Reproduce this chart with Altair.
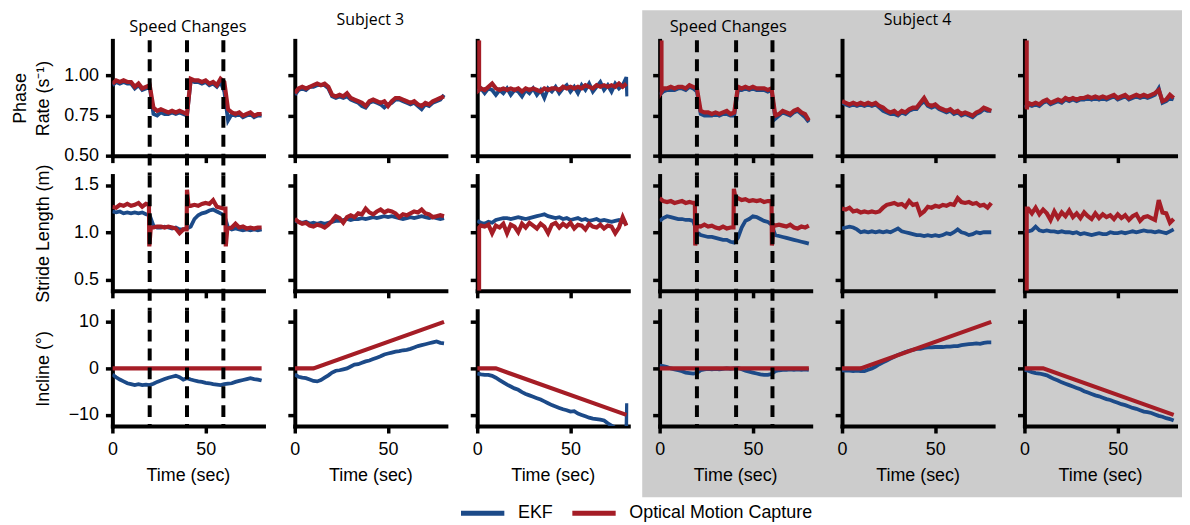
import altair as alt
import pandas as pd

# ---------------- data ----------------
T = [0, 2, 4, 6, 8, 10, 12, 14, 16, 18, 20, 22, 24, 26, 28, 30, 32, 34, 36, 38, 40,
     42, 44, 46, 48, 50, 52, 54, 56, 58, 60, 62, 64, 66, 68, 70, 72, 74, 76, 78, 80]

s3_speed_change_times = [20, 40, 59.5]
s4_speed_change_times = [20, 41, 60.5]

# Phase rate (1/s)
s3_speed_rate_mocap = [0.95, 0.97, 0.96, 0.97, 0.96, 0.96, 0.93, 0.95, 0.92, 0.93, 0.94, 0.80, 0.78, 0.79, 0.78, 0.77, 0.78, 0.77, 0.78, 0.77,
                       0.76, 0.98, 0.97, 0.97, 0.96, 0.97, 0.95, 0.96, 0.94, 0.98, 0.96, 0.79, 0.77, 0.76, 0.77, 0.75, 0.76, 0.77, 0.75, 0.76, 0.76]
s3_speed_rate_ekf = [0.94, 0.96, 0.95, 0.96, 0.95, 0.95, 0.92, 0.94, 0.91, 0.92, 0.93, 0.76, 0.75, 0.77, 0.76, 0.76, 0.77, 0.76, 0.77, 0.76,
                     0.75, 0.97, 0.96, 0.96, 0.95, 0.96, 0.94, 0.95, 0.93, 0.96, 0.90, 0.72, 0.76, 0.75, 0.76, 0.74, 0.75, 0.76, 0.74, 0.75, 0.75]
s3_up_rate_mocap = [0.89, 0.92, 0.93, 0.92, 0.93, 0.94, 0.95, 0.94, 0.95, 0.93, 0.88, 0.87, 0.88, 0.87, 0.89, 0.86, 0.85, 0.84, 0.83, 0.81,
                    0.84, 0.85, 0.84, 0.83, 0.84, 0.81, 0.84, 0.86, 0.86, 0.85, 0.84, 0.83, 0.84, 0.82, 0.81, 0.83, 0.82, 0.84, 0.85, 0.86, 0.87]
s3_up_rate_ekf = [0.88, 0.91, 0.92, 0.91, 0.93, 0.93, 0.94, 0.94, 0.94, 0.92, 0.87, 0.86, 0.87, 0.86, 0.87, 0.85, 0.84, 0.83, 0.81, 0.80,
                  0.83, 0.84, 0.83, 0.82, 0.80, 0.82, 0.83, 0.85, 0.85, 0.84, 0.83, 0.82, 0.83, 0.81, 0.79, 0.82, 0.81, 0.83, 0.84, 0.85, 0.88]
s3_down_rate_mocap = [None, 0.92, 0.91, 0.93, 0.95, 0.92, 0.91, 0.92, 0.91, 0.92, 0.91, 0.92, 0.90, 0.92, 0.91, 0.92, 0.91, 0.90, 0.92, 0.91,
                      0.92, 0.92, 0.91, 0.93, 0.92, 0.93, 0.92, 0.93, 0.92, 0.94, 0.93, 0.92, 0.94, 0.93, 0.94, 0.93, 0.94, 0.93, 0.95, 0.93, 0.95]
s3_down_rate_mocap_extra = [[1.0, 1.22], [1.0, 0.91]]
s3_down_rate_ekf = [0.90, 0.92, 0.89, 0.92, 0.91, 0.88, 0.91, 0.89, 0.92, 0.88, 0.91, 0.90, 0.87, 0.91, 0.89, 0.92, 0.88, 0.91, 0.86, 0.92,
                    0.90, 0.93, 0.89, 0.92, 0.94, 0.90, 0.93, 0.89, 0.94, 0.91, 0.95, 0.90, 0.93, 0.96, 0.91, 0.94, 0.90, 0.95, 0.92, 0.94, 0.99]
s3_down_rate_ekf_extra = [[80.4, 0.87]]
s4_speed_rate_mocap = [None, 0.92, 0.92, 0.93, 0.92, 0.93, 0.93, 0.92, 0.94, 0.93, 0.92, 0.78, 0.77, 0.77, 0.76, 0.77, 0.76, 0.77, 0.78, 0.76,
                       0.77, 0.93, 0.92, 0.93, 0.92, 0.93, 0.92, 0.92, 0.92, 0.91, 0.92, 0.75, 0.76, 0.78, 0.77, 0.76, 0.78, 0.79, 0.77, 0.76, 0.72]
s4_speed_rate_mocap_extra = [[1.0, 1.22], [1.0, 0.90]]
s4_speed_rate_ekf = [0.88, 0.90, 0.91, 0.91, 0.91, 0.92, 0.92, 0.91, 0.93, 0.92, 0.90, 0.76, 0.75, 0.75, 0.75, 0.76, 0.75, 0.76, 0.76, 0.75,
                     0.75, 0.91, 0.91, 0.92, 0.91, 0.92, 0.91, 0.91, 0.91, 0.90, 0.91, 0.73, 0.75, 0.77, 0.76, 0.75, 0.77, 0.78, 0.76, 0.74, 0.71]
s4_up_rate_mocap = [0.84, 0.83, 0.82, 0.83, 0.82, 0.83, 0.82, 0.83, 0.82, 0.83, 0.81, 0.80, 0.78, 0.77, 0.78, 0.76, 0.78, 0.77, 0.79, 0.80,
                    0.80, 0.83, 0.86, 0.82, 0.81, 0.82, 0.80, 0.79, 0.78, 0.79, 0.77, 0.78, 0.76, 0.77, 0.76, 0.75, 0.77, 0.78, 0.80, 0.79, 0.78]
s4_up_rate_ekf = [0.83, 0.82, 0.81, 0.82, 0.81, 0.82, 0.81, 0.82, 0.81, 0.82, 0.80, 0.78, 0.77, 0.76, 0.76, 0.75, 0.77, 0.76, 0.78, 0.79,
                  0.79, 0.82, 0.84, 0.81, 0.80, 0.81, 0.79, 0.78, 0.77, 0.78, 0.76, 0.77, 0.75, 0.76, 0.75, 0.74, 0.76, 0.77, 0.79, 0.78, 0.78]
s4_down_rate_mocap = [None, 0.83, 0.82, 0.83, 0.82, 0.84, 0.85, 0.83, 0.84, 0.85, 0.84, 0.86, 0.85, 0.86, 0.85, 0.86, 0.86, 0.87, 0.86, 0.87,
                      0.86, 0.87, 0.86, 0.87, 0.88, 0.86, 0.87, 0.88, 0.86, 0.87, 0.88, 0.87, 0.88, 0.87, 0.88, 0.89, 0.91, 0.84, 0.85, 0.88, 0.86]
s4_down_rate_mocap_extra = [[1.2, 1.22], [1.2, 0.79]]
s4_down_rate_ekf = [0.80, 0.82, 0.81, 0.82, 0.81, 0.83, 0.84, 0.82, 0.83, 0.84, 0.83, 0.85, 0.84, 0.85, 0.84, 0.85, 0.85, 0.86, 0.85, 0.86,
                    0.85, 0.86, 0.85, 0.86, 0.87, 0.85, 0.86, 0.87, 0.85, 0.86, 0.87, 0.86, 0.87, 0.86, 0.87, 0.88, 0.92, 0.83, 0.84, 0.86, 0.85]

# Stride length (m)
s3_speed_stride_mocap = [1.27, 1.26, 1.29, 1.28, 1.30, 1.28, 1.29, 1.31, 1.27, 1.30, None, 1.05, 1.06, 1.06, 1.05, 1.06, 1.05, 1.04, 0.99, 1.03,
                         None, 1.28, 1.29, 1.28, 1.30, 1.31, 1.30, 1.34, 1.27, 1.26, 1.25, 1.04, 1.05, 1.09, 1.05, 1.06, 1.04, 1.05, 1.04, 1.05, 1.05]
s3_speed_stride_mocap_extra = [[19.6, 1.29], [19.8, 0.85], [20.6, 1.05], [39.8, 1.03], [40.0, 1.45], [40.8, 1.28],
                               [60.6, 1.25], [60.8, 0.85], [61.6, 1.04]]
s3_speed_stride_ekf = [1.22, 1.21, 1.22, 1.20, 1.21, 1.20, 1.21, 1.20, 1.21, 1.19, 1.18, 1.07, 1.05, 1.05, 1.06, 1.05, 1.04, 1.05, 1.03, 1.03,
                       1.04, 1.06, 1.14, 1.18, 1.20, 1.21, 1.23, 1.24, 1.22, 1.20, 1.18, 1.05, 1.03, 1.04, 1.03, 1.02, 1.03, 1.02, 1.03, 1.02, 1.03]
s3_up_stride_mocap = [1.14, 1.11, 1.09, 1.10, 1.07, 1.06, 1.08, 1.07, 1.05, 1.08, 1.12, 1.17, 1.15, 1.10, 1.16, 1.18, 1.16, 1.20, 1.19, 1.25,
                      1.21, 1.19, 1.22, 1.24, 1.21, 1.23, 1.22, 1.20, 1.16, 1.19, 1.18, 1.20, 1.22, 1.21, 1.24, 1.20, 1.19, 1.16, 1.17, 1.18, 1.17]
s3_up_stride_ekf = [1.12, 1.11, 1.10, 1.11, 1.09, 1.10, 1.09, 1.10, 1.09, 1.10, 1.11, 1.12, 1.12, 1.13, 1.14, 1.13, 1.14, 1.14, 1.15, 1.14,
                    1.15, 1.16, 1.15, 1.16, 1.17, 1.16, 1.17, 1.16, 1.15, 1.14, 1.15, 1.16, 1.15, 1.16, 1.17, 1.16, 1.15, 1.16, 1.15, 1.14, 1.15]
s3_down_stride_mocap = [None, 1.07, 1.06, 1.08, 0.99, 1.07, 1.05, 1.09, 0.99, 1.08, 1.06, 1.00, 1.09, 1.05, 1.10, 1.07, 1.04, 1.09, 1.06, 0.99,
                        1.08, 1.10, 1.05, 1.09, 1.06, 1.10, 1.04, 1.08, 1.07, 1.03, 1.09, 1.06, 1.05, 1.08, 1.04, 1.07, 1.06, 0.99, 1.05, 1.16, 1.07]
s3_down_stride_mocap_extra = [[1.0, 0.38], [1.0, 1.05]]
s3_down_stride_ekf = [1.12, 1.10, 1.09, 1.11, 1.10, 1.13, 1.14, 1.15, 1.15, 1.14, 1.15, 1.16, 1.15, 1.14, 1.15, 1.16, 1.17, 1.18, 1.19, 1.17,
                      1.16, 1.15, 1.16, 1.14, 1.15, 1.13, 1.14, 1.15, 1.13, 1.14, 1.12, 1.13, 1.14, 1.12, 1.13, 1.12, 1.11, 1.12, 1.13, 1.11, 1.10]
s4_speed_stride_mocap = [1.36, 1.33, 1.32, 1.33, 1.31, 1.32, 1.33, 1.31, 1.32, 1.31, None, 1.06, 1.08, 1.06, 1.07, 1.05, 1.04, 1.06, 1.04, 1.05,
                         None, 1.36, 1.34, 1.35, 1.33, 1.34, 1.33, 1.34, 1.32, 1.33, 1.33, 1.07, 1.08, 1.07, 1.06, 1.08, 1.05, 1.04, 1.06, 1.05, 1.07]
s4_speed_stride_mocap_extra = [[18.9, 1.31], [19.1, 0.86], [20.0, 1.07], [39.6, 1.05], [39.8, 1.46], [40.6, 1.37],
                               [60.0, 1.33], [60.2, 0.86], [61.0, 1.08]]
s4_speed_stride_ekf = [1.12, 1.15, 1.17, 1.16, 1.15, 1.14, 1.14, 1.13, 1.13, 1.12, 1.00, 0.97, 0.96, 0.95, 0.95, 0.94, 0.93, 0.92, 0.92, 0.90,
                       0.89, 0.94, 1.05, 1.12, 1.14, 1.17, 1.16, 1.14, 1.12, 1.11, 1.08, 0.97, 0.96, 0.95, 0.94, 0.93, 0.92, 0.91, 0.90, 0.89, 0.88]
s4_up_stride_mocap = [1.25, 1.24, 1.26, 1.22, 1.23, 1.21, 1.22, 1.21, 1.22, 1.21, 1.22, 1.26, 1.29, 1.30, 1.31, 1.29, 1.30, 1.27, 1.33, 1.29,
                      1.30, 1.19, 1.22, 1.27, 1.26, 1.28, 1.27, 1.29, 1.28, 1.30, 1.29, 1.36, 1.32, 1.31, 1.32, 1.30, 1.31, 1.28, 1.29, 1.26, 1.31]
s4_up_stride_ekf = [1.04, 1.05, 1.06, 1.05, 1.03, 1.00, 1.01, 1.00, 1.01, 1.00, 1.01, 1.00, 1.01, 1.00, 1.02, 1.04, 1.01, 1.00, 0.99, 0.98,
                    0.97, 0.97, 0.96, 0.97, 0.96, 0.97, 0.96, 0.97, 0.99, 0.98, 1.00, 1.03, 1.00, 0.99, 0.97, 0.98, 1.00, 0.99, 1.00, 1.00, 1.00]
s4_down_stride_mocap = [None, 1.25, 1.20, 1.26, 1.19, 1.24, 1.20, 1.13, 1.22, 1.15, 1.21, 1.17, 1.23, 1.16, 1.20, 1.15, 1.21, 1.17, 1.14, 1.20,
                        1.15, 1.19, 1.16, 1.18, 1.14, 1.19, 1.15, 1.18, 1.13, 1.17, 1.19, 1.12, 1.16, 1.17, 1.15, 1.13, 1.34, 1.21, 1.20, 1.10, 1.14]
s4_down_stride_mocap_extra = [[1.2, 0.38], [1.2, 1.25]]
s4_down_stride_ekf = [1.00, 1.01, 1.02, 1.06, 1.02, 1.01, 1.02, 1.01, 1.01, 1.00, 1.01, 1.00, 1.00, 0.99, 1.00, 0.98, 0.99, 0.98, 0.97, 0.98,
                      0.99, 0.98, 0.98, 1.00, 0.99, 0.99, 1.00, 0.99, 1.00, 1.01, 1.00, 1.01, 1.02, 1.01, 1.01, 1.00, 1.01, 1.00, 0.99, 1.01, 1.03]

# Incline (deg)
s3_speed_incline_ekf = [-1.3, -1.9, -2.4, -2.8, -3.2, -3.4, -3.6, -3.4, -3.6, -3.5, -3.6, -3.3, -2.9, -2.6, -2.3, -2.0, -1.8, -1.6, -1.9, -2.4,
                        -2.1, -2.4, -2.6, -2.8, -2.9, -3.1, -3.2, -3.4, -3.5, -3.6, -3.4, -3.3, -3.2, -2.9, -2.7, -2.5, -2.3, -2.1, -2.3, -2.4, -2.6]
s3_speed_incline_mocap = [[0, 0], [80, 0]]
s3_up_incline_ekf = [-1.3, -1.8, -2.0, -2.1, -2.4, -2.7, -2.8, -2.5, -2.0, -1.5, -0.9, -0.5, -0.4, -0.2, 0.0, 0.4, 0.8, 0.9, 1.2, 1.5,
                     1.7, 2.0, 2.3, 2.6, 3.0, 3.2, 3.4, 3.6, 3.7, 3.9, 4.0, 4.2, 4.5, 4.8, 5.0, 5.2, 5.4, 5.6, 5.8, 5.5, 5.4]
s3_up_incline_mocap = [[0, 0], [10, 0], [80, 10]]
s3_down_incline_ekf = [-1.1, -1.3, -1.4, -1.4, -1.6, -2.0, -2.5, -3.0, -3.5, -3.9, -4.3, -4.6, -5.1, -5.5, -5.8, -6.1, -6.4, -6.7, -7.1, -7.5,
                       -7.9, -8.2, -8.5, -8.8, -9.0, -9.3, -9.2, -9.7, -10.0, -10.3, -10.6, -10.8, -10.9, -11.0, -11.2, -11.8, -12.3, -12.8, -13.0, -13.2, -13.0]
s3_down_incline_ekf_extra = [[80.3, -7.5]]
s3_down_incline_mocap = [[0, 0], [10, 0], [80, -10]]
s4_speed_incline_ekf = [0.6, 0.5, 0.3, 0.0, -0.2, -0.4, -0.6, -0.9, -1.0, -1.1, -1.0, -0.4, -0.2, -0.1, -0.2, -0.1, -0.2, -0.1, 0.0, -0.1,
                        0.0, 0.1, -0.2, -0.5, -0.7, -0.9, -1.1, -1.3, -1.4, -1.4, -1.2, -0.6, -0.4, -0.3, -0.3, -0.2, -0.3, -0.2, -0.3, -0.2, -0.3]
s4_speed_incline_mocap = [[0, 0], [80, 0]]
s4_up_incline_ekf = [-0.4, -0.5, -0.5, -0.6, -0.5, -0.6, -0.6, -0.3, 0.0, 0.4, 0.9, 1.3, 1.7, 2.1, 2.5, 2.9, 3.2, 3.5, 3.8, 4.0,
                     4.2, 4.2, 4.4, 4.5, 4.5, 4.6, 4.6, 4.6, 4.7, 4.7, 4.8, 4.8, 5.0, 5.1, 5.2, 5.3, 5.4, 5.3, 5.5, 5.6, 5.6]
s4_up_incline_mocap = [[0, 0], [10, 0], [80, 10]]
s4_down_incline_ekf = [-0.3, -0.5, -0.8, -1.0, -1.1, -1.3, -1.5, -1.9, -2.3, -2.6, -3.0, -3.3, -3.6, -3.9, -4.2, -4.5, -4.9, -5.2, -5.5, -5.8,
                       -6.0, -6.3, -6.6, -6.8, -7.1, -7.4, -7.7, -7.9, -8.2, -8.5, -8.7, -9.0, -9.3, -9.4, -9.6, -9.9, -10.2, -10.4, -10.7, -10.9, -11.2]
s4_down_incline_mocap = [[0, 0], [10, 0], [80, -10]]

SERIES = ["EKF", "Optical Motion Capture"]

# ---------------- helpers ----------------
W, H = 152, 116
GAP_R, GAP_C = 20, 31.5
BLUE, RED = "#1c4a88", "#a51d26"
GRAY = "#cccccc"
XDOM = [0, 81]
FONT = "Liberation Sans"
TFONT = "Open Sans"


def grid_df(vals, name, extra=()):
    pts = [(t, v) for t, v in zip(T, vals) if v is not None]
    pts += [(p[0], p[1]) for p in extra]
    pts.sort(key=lambda p: p[0])
    return pd.DataFrame({"t": [p[0] for p in pts], "v": [p[1] for p in pts],
                         "i": list(range(len(pts))), "series": name})


def pair_df(pairs, name):
    return pd.DataFrame({"t": [p[0] for p in pairs], "v": [p[1] for p in pairs],
                         "i": list(range(len(pairs))), "series": name})


DATA = {
    ("s3", "speed", 0): (grid_df(s3_speed_rate_ekf, SERIES[0]), grid_df(s3_speed_rate_mocap, SERIES[1])),
    ("s3", "up", 0): (grid_df(s3_up_rate_ekf, SERIES[0]), grid_df(s3_up_rate_mocap, SERIES[1])),
    ("s3", "down", 0): (grid_df(s3_down_rate_ekf, SERIES[0], s3_down_rate_ekf_extra),
                        grid_df(s3_down_rate_mocap, SERIES[1], s3_down_rate_mocap_extra)),
    ("s4", "speed", 0): (grid_df(s4_speed_rate_ekf, SERIES[0]),
                         grid_df(s4_speed_rate_mocap, SERIES[1], s4_speed_rate_mocap_extra)),
    ("s4", "up", 0): (grid_df(s4_up_rate_ekf, SERIES[0]), grid_df(s4_up_rate_mocap, SERIES[1])),
    ("s4", "down", 0): (grid_df(s4_down_rate_ekf, SERIES[0]),
                        grid_df(s4_down_rate_mocap, SERIES[1], s4_down_rate_mocap_extra)),
    ("s3", "speed", 1): (grid_df(s3_speed_stride_ekf, SERIES[0]),
                         grid_df(s3_speed_stride_mocap, SERIES[1], s3_speed_stride_mocap_extra)),
    ("s3", "up", 1): (grid_df(s3_up_stride_ekf, SERIES[0]), grid_df(s3_up_stride_mocap, SERIES[1])),
    ("s3", "down", 1): (grid_df(s3_down_stride_ekf, SERIES[0]),
                        grid_df(s3_down_stride_mocap, SERIES[1], s3_down_stride_mocap_extra)),
    ("s4", "speed", 1): (grid_df(s4_speed_stride_ekf, SERIES[0]),
                         grid_df(s4_speed_stride_mocap, SERIES[1], s4_speed_stride_mocap_extra)),
    ("s4", "up", 1): (grid_df(s4_up_stride_ekf, SERIES[0]), grid_df(s4_up_stride_mocap, SERIES[1])),
    ("s4", "down", 1): (grid_df(s4_down_stride_ekf, SERIES[0]),
                        grid_df(s4_down_stride_mocap, SERIES[1], s4_down_stride_mocap_extra)),
    ("s3", "speed", 2): (grid_df(s3_speed_incline_ekf, SERIES[0]), pair_df(s3_speed_incline_mocap, SERIES[1])),
    ("s3", "up", 2): (grid_df(s3_up_incline_ekf, SERIES[0]), pair_df(s3_up_incline_mocap, SERIES[1])),
    ("s3", "down", 2): (grid_df(s3_down_incline_ekf, SERIES[0], s3_down_incline_ekf_extra),
                        pair_df(s3_down_incline_mocap, SERIES[1])),
    ("s4", "speed", 2): (grid_df(s4_speed_incline_ekf, SERIES[0]), pair_df(s4_speed_incline_mocap, SERIES[1])),
    ("s4", "up", 2): (grid_df(s4_up_incline_ekf, SERIES[0]), pair_df(s4_up_incline_mocap, SERIES[1])),
    ("s4", "down", 2): (grid_df(s4_down_incline_ekf, SERIES[0]), pair_df(s4_down_incline_mocap, SERIES[1])),
}

ROWS = [
    dict(domain=[0.5, 1.22], ticks=[0.5, 0.75, 1.0], fmt=".2f", title=["Phase", "Rate (s\u207b\u00b9)"], tx=-87),
    dict(domain=[0.38, 1.6], ticks=[0.5, 1.0, 1.5], fmt=".1f", title="Stride Length (m)", tx=-64),
    dict(domain=[-12.4, 12.4], ticks=[-10, 0, 10], fmt="d", title="Incline (\u00b0)", tx=-64),
]
COLS = [("s3", "speed"), ("s3", "up"), ("s3", "down"), ("s4", "speed"), ("s4", "up"), ("s4", "down")]
# panel headings: (text, x offset from panel centre, baseline height above the plot, size)
HEADINGS = {(0, 0): ("Speed Changes", 0, 8, 16.5), (0, 1): ("Subject 3", 0, 15, 16),
            (0, 3): ("Speed Changes", -7, 8, 16.5), (0, 4): ("Subject 4", 0, 15, 16)}
DASHES = {0: s3_speed_change_times, 3: s4_speed_change_times}

color = alt.Color("series:N",
                  scale=alt.Scale(domain=SERIES, range=[BLUE, RED]),
                  legend=alt.Legend(orient="none", legendX=348, legendY=451, direction="horizontal",
                                    title=None, symbolType="stroke", symbolStrokeWidth=5,
                                    symbolSize=1900, labelFont=FONT, labelFontSize=18, labelLimit=400,
                                    labelColor="black", columnPadding=8, labelOffset=11, padding=0))


def panel(r, c):
    spec = ROWS[r]
    subj, cond = COLS[c]
    ekf, mocap = DATA[(subj, cond, r)]
    first_col = c == 0
    last_row = r == 2

    xkw = dict(values=[0, 50], labels=last_row, labelFlush=False, labelBaseline="alphabetic",
               labelPadding=22, titleY=55, titleBaseline="alphabetic")
    xkw["title"] = "Time (sec)" if last_row else None
    x_enc = alt.X("t:Q", scale=alt.Scale(domain=XDOM, nice=False, zero=False), axis=alt.Axis(**xkw))

    ykw = dict(values=spec["ticks"], format=spec["fmt"], labels=first_col, labelPadding=7)
    if first_col:
        ykw.update(title=spec["title"], titleX=spec["tx"], titleY=H / 2, titleAngle=270,
                   titleAlign="center", titleBaseline="alphabetic", titleLineHeight=23)
    else:
        ykw["title"] = None
    y_enc = alt.Y("v:Q", scale=alt.Scale(domain=spec["domain"], nice=False, zero=False), axis=alt.Axis(**ykw))

    layers = []
    if r == 0 and c == 2:
        # grey backdrop behind the Subject 4 block (drawn before those panels)
        layers.append(alt.Chart(alt.Data(values=[{"a": 1}])).mark_rect(color=GRAY).encode(
            x=alt.value(166), x2=alt.value(709), y=alt.value(-30.3), y2=alt.value(459.7)))
    layers.append(alt.Chart(ekf).mark_line(clip=True, strokeWidth=3.8).encode(
        x=x_enc, y=y_enc, color=color, order=alt.Order("i:Q")))
    layers.append(alt.Chart(mocap).mark_line(clip=True, strokeWidth=4.2).encode(
        x=x_enc, y=y_enc, color=color, order=alt.Order("i:Q")))
    if c in DASHES:
        y2 = H + GAP_R if r < 2 else H
        layers.append(alt.Chart(pd.DataFrame({"t": DASHES[c]})).mark_rule(
            color="black", strokeWidth=4, strokeDash=[12, 7]).encode(
            x=x_enc, y=alt.value(0), y2=alt.value(y2)))
    if (r, c) in HEADINGS:
        text, dx, up, fs = HEADINGS[(r, c)]
        layers.append(alt.Chart(alt.Data(values=[{"label": text}])).mark_text(
            font=TFONT, fontSize=fs, baseline="alphabetic", align="center", color="black").encode(
            x=alt.value(W / 2 + dx), y=alt.value(-up), text="label:N"))

    return alt.layer(*layers).properties(width=W, height=H)


panels = [panel(r, c) for r in range(3) for c in range(6)]

chart = alt.concat(*panels, columns=6, spacing={"row": GAP_R, "column": GAP_C}, bounds="flush").properties(
    padding={"left": 4, "top": 0, "right": 0, "bottom": 2}
).configure_view(stroke=None).configure_axis(
    domainColor="black", domainWidth=4, domainCap="square", tickColor="black", tickWidth=3.5, tickSize=7,
    labelFont=FONT, labelFontSize=18, labelColor="black",
    titleFont=FONT, titleFontSize=18, titleColor="black", titleFontWeight="normal",
    grid=False, zindex=1
)

chart.save("out.html", embed_options={"renderer": "svg", "actions": False})
